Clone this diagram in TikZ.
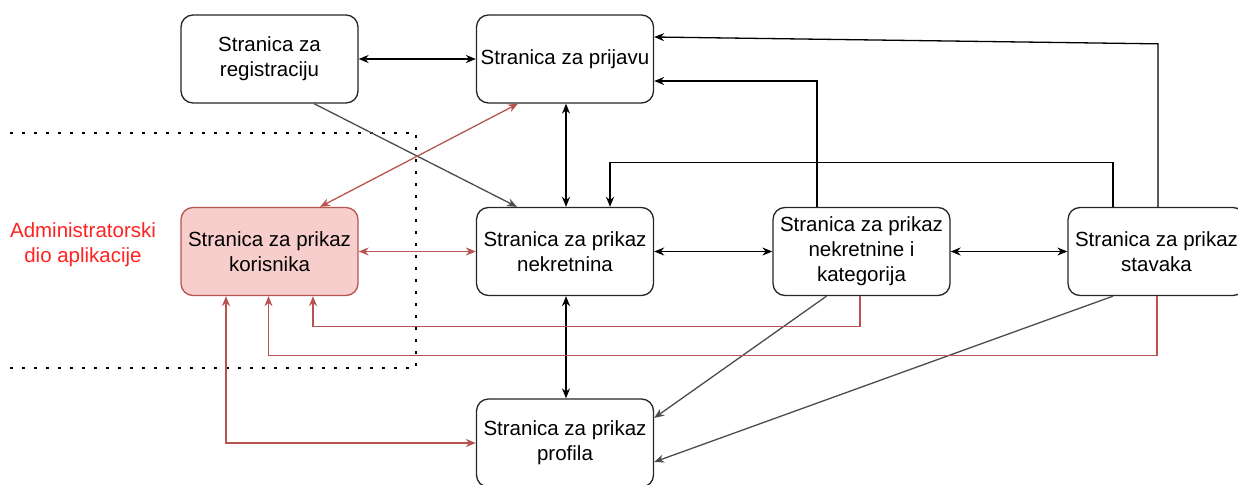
\documentclass[tikz,border=0pt]{standalone}
\usepackage{fontspec}
\setmainfont{Liberation Sans}
\usetikzlibrary{arrows.meta,calc}
\definecolor{redline}{HTML}{B85450}
\definecolor{redfill}{HTML}{F8CECC}
\definecolor{admred}{HTML}{FF2222}
\begin{document}
\begin{tikzpicture}[x=1pt,y=-1pt,
 page/.style={draw=black!85, line width=1.3pt, rounded corners=12pt, minimum width=177pt, minimum height=88pt, align=center, inner sep=0pt, font=\fontsize{20.5}{25}\selectfont, fill=white},
 adminpage/.style={page, draw=redline, fill=redfill},
 tip/.tip={Stealth[length=10pt,width=8pt]},
 conn/.style={line width=1.3pt, black, -tip},
 both/.style={line width=1.3pt, black, tip-tip},
 redconn/.style={line width=1.3pt, redline, -tip},
 redboth/.style={line width=1.3pt, redline, tip-tip},
 grayconn/.style={line width=1.3pt, black!70, -tip},
 dots/.style={line width=2.6pt, dash pattern=on 3pt off 9pt}]
\useasboundingbox (0,0) rectangle (1238,484);

\node[page] (reg) at (269.5,59) {Stranica za\\registraciju};
\node[page] (prij) at (565,59) {Stranica za prijavu};
\node[adminpage] (kor) at (269.5,251.5) {Stranica za prikaz\\korisnika};
\node[page] (nek) at (565,251.5) {Stranica za prikaz\\nekretnina};
\node[page] (kat) at (861.5,251.5) {Stranica za prikaz\\nekretnine i\\kategorija};
\node[page] (stav) at (1156.5,251.5) {Stranica za prikaz\\stavaka};
\node[page] (prof) at (565,443) {Stranica za prikaz\\profila};
\node[text=admred, align=center, font=\fontsize{20.5}{25}\selectfont] (adm) at (83,245) {Administratorski\\dio aplikacije};

\draw[dots] (10,133) -- (416,133) -- (416,368) -- (10,368);

\draw[both] (reg.east) -- (prij.west);
\draw[grayconn] ($(reg.south)+(44.5,0)$) -- ($(nek.north)+(-48,0)$);
\draw[redboth] ($(kor.north)+(50.5,0)$) -- ($(prij.south)+(-47,0)$);
\draw[both] ($(prij.south)+(1,0)$) -- ($(nek.north)+(1,0)$);
\draw[conn] ($(stav.north)+(-43.5,0)$) -- ++(0,-44.5) -| ($(nek.north)+(45,0)$);
\draw[conn] ($(kat.north)+(-44.5,0)$) |- ($(prij.east)+(0,22)$);
\draw[conn] ($(stav.north)+(1.5,0)$) -- ($(stav.north)+(1.5,-163)$) -- ($(prij.east)+(0,-22)$);
\draw[both] (nek.east) -- (kat.west);
\draw[both] (kat.east) -- (stav.west);
\draw[redboth] (kor.east) -- (nek.west);
\draw[both] ($(nek.south)+(1,0)$) -- ($(prof.north)+(1,0)$);
\draw[grayconn] ($(kat.south)+(-35,0)$) -- ($(prof.east)+(0,-25)$);
\draw[grayconn] ($(stav.south)+(-43.5,0)$) -- ($(prof.east)+(0,19)$);
\draw[redconn] ($(kat.south)+(-1.5,0)$) -- ++(0,30) -| ($(kor.south)+(43.5,0)$);
\draw[redconn] ($(stav.south)+(0.5,0)$) -- ++(0,59) -| ($(kor.south)+(-1,0)$);
\draw[redboth] ($(kor.south)+(-43.5,0)$) |- (prof.west);
\end{tikzpicture}
\end{document}
